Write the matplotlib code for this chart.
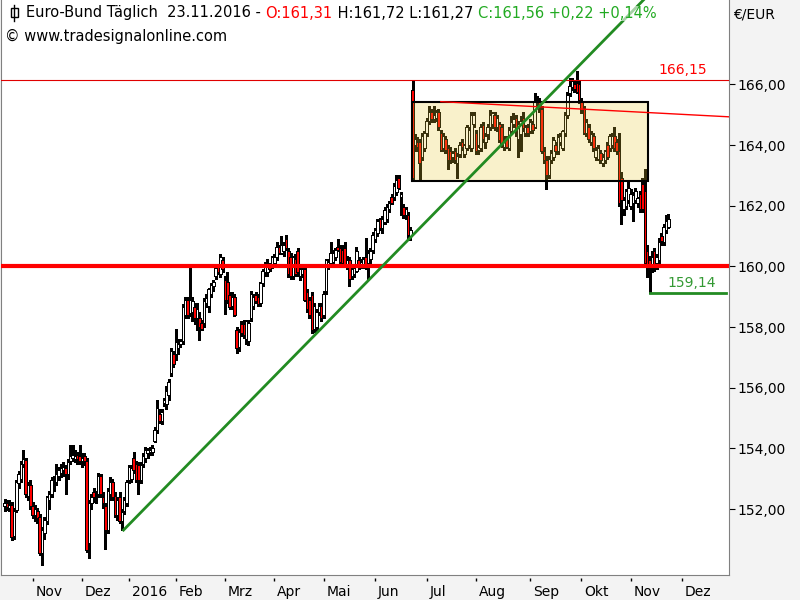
import numpy as np
import pandas as pd
import matplotlib
matplotlib.use("Agg")
import matplotlib.pyplot as plt
import matplotlib.transforms as mtransforms
from matplotlib.patches import Rectangle
from matplotlib.lines import Line2D

# Euro-Bund daily candles, 15.10.2015 - 23.11.2016
opens = [
    # Okt 2015
    152.10, 152.19, 152.05, 152.15, 151.10, 151.98, 152.85, 153.00, 153.50, 153.62, 152.45, 152.80,
    # Nov
    152.10, 151.80, 151.95, 151.75, 150.55, 151.20, 151.60, 152.30, 152.50, 152.85, 152.90, 153.10,
    153.20, 153.30, 153.35, 153.15, 153.60, 153.70, 153.65, 153.80, 153.75,
    # Dez
    153.60, 153.75, 153.60, 150.90, 152.20, 152.55, 152.40, 152.50, 153.10, 152.40, 152.10, 151.30,
    152.50, 152.90, 152.45, 151.80, 152.40, 151.60, 151.95, 152.20,
    # Jan 2016
    152.95, 153.00, 153.70, 153.50, 153.45, 152.95, 153.50, 153.70, 153.85, 153.90, 153.90, 154.25,
    154.60, 155.15, 154.90, 155.50, 155.45, 155.75, 156.50, 157.10,
    # Feb
    157.10, 157.30, 157.45, 157.55, 158.40, 158.90, 158.45, 158.50, 158.65, 158.30, 158.30, 158.15,
    158.15, 158.80, 158.70, 159.10, 159.35, 159.70, 159.97, 159.75, 160.20,
    # Mrz
    159.55, 159.50, 159.05, 158.70, 159.00, 157.90, 157.35, 158.10, 158.10, 157.60, 157.55, 158.30,
    158.70, 159.05, 159.00, 158.80, 159.45, 159.80, 159.80, 160.00, 160.05,
    # Apr
    160.10, 160.30, 160.65, 160.45, 160.50, 160.90, 160.50, 160.30, 159.70, 160.25, 160.50, 159.70,
    159.75, 159.90, 159.15, 158.90, 159.05, 157.95, 158.00, 158.50, 158.70,
    # Mai
    158.40, 159.20, 160.00, 160.10, 160.15, 160.30, 160.65, 160.60, 160.55, 160.60, 160.05, 160.20,
    159.70, 159.75, 159.85, 160.20, 160.00, 160.05, 160.30, 160.10, 160.25, 160.55,
    # Jun
    160.90, 161.10, 161.55, 161.25, 161.45, 161.55, 161.90, 162.30, 162.30, 162.45, 162.90, 162.30,
    161.95, 161.70, 161.70, 161.00, 165.80, 164.00, 164.10, 164.10, 163.60, 163.90,
    # Jul
    164.40, 164.80, 165.10, 164.85, 164.90, 165.10, 164.40, 163.90, 164.20, 163.90, 163.80, 163.60,
    163.80, 163.40, 163.70, 164.10, 163.70, 163.90, 164.00, 163.90, 164.70,
    # Aug
    164.40, 163.85, 163.90, 164.65, 164.10, 164.35, 164.60, 164.70, 165.00, 164.60, 164.70, 164.60,
    163.95, 164.20, 163.90, 164.45, 164.70, 164.90, 164.20, 164.35, 164.90, 164.40, 164.60,
    # Sep
    164.45, 164.70, 164.60, 165.45, 165.45, 165.20, 163.80, 163.50, 163.00, 163.50, 163.60, 164.00,
    163.80, 164.10, 163.90, 164.40, 165.00, 165.70, 165.90, 166.00, 166.05, 166.00,
    # Okt
    165.45, 165.20, 164.40, 164.60, 164.10, 164.30, 163.60, 163.55, 163.75, 163.40, 163.50, 164.00,
    163.90, 164.00, 164.30, 164.10, 163.80, 162.90, 161.90, 162.00, 162.20,
    # Nov
    162.00, 162.10, 162.20, 162.10, 162.40, 162.70, 162.50, 160.50, 160.20, 160.00, 160.50, 160.10,
    160.20, 161.00, 160.80, 161.20, 161.31,
]
highs = [
    152.35, 152.30, 152.30, 152.22, 152.05, 152.95, 153.25, 153.60, 153.95, 153.70, 152.90, 152.95,
    152.25, 152.15, 152.05, 151.85, 151.40, 151.75, 152.45, 152.60, 153.05, 153.10, 153.50, 153.40,
    153.50, 153.55, 153.45, 153.65, 154.10, 154.10, 153.95, 153.90, 154.10,
    153.85, 153.85, 153.70, 152.30, 152.50, 152.70, 152.60, 153.20, 153.15, 152.55, 152.20, 152.70,
    153.05, 153.00, 152.55, 152.40, 152.55, 152.00, 152.40, 152.95,
    153.45, 153.45, 153.90, 153.60, 153.55, 153.55, 153.85, 154.05, 154.00, 154.05, 154.10, 154.70,
    155.60, 155.30, 155.30, 155.65, 156.05, 156.30, 157.30, 157.20,
    157.95, 157.60, 157.60, 158.75, 159.00, 159.00, 159.95, 159.00, 158.80, 158.80, 158.50, 158.25,
    158.95, 159.10, 159.30, 159.45, 159.55, 160.05, 160.05, 160.40, 160.30,
    159.70, 159.80, 159.15, 159.15, 159.10, 158.00, 157.95, 158.20, 158.25, 158.25, 158.25, 159.20,
    159.10, 159.15, 159.10, 159.50, 159.90, 160.15, 160.25, 160.10, 160.35,
    160.40, 160.80, 160.70, 161.00, 160.80, 161.05, 160.60, 160.45, 160.35, 160.40, 160.60, 160.05,
    160.05, 160.00, 159.25, 159.00, 159.15, 158.80, 158.60, 158.80, 158.80,
    159.20, 160.25, 160.25, 160.80, 160.55, 160.60, 160.90, 160.70, 160.70, 160.80, 160.35, 160.30,
    159.95, 160.00, 160.65, 160.30, 160.25, 160.30, 160.95, 160.55, 160.60, 161.15,
    161.25, 161.55, 161.60, 161.65, 161.95, 162.05, 162.15, 162.40, 162.75, 163.00, 163.00, 162.45,
    162.05, 161.95, 161.80, 161.30, 166.15, 164.35, 164.25, 164.20, 164.40, 164.45,
    164.90, 165.30, 165.20, 165.30, 165.15, 165.20, 164.50, 164.40, 164.30, 164.00, 163.95, 163.80,
    163.90, 163.75, 164.10, 164.20, 164.05, 164.65, 164.60, 165.10, 165.10,
    164.50, 164.00, 164.70, 164.75, 164.40, 164.70, 165.15, 165.10, 165.10, 165.00, 164.75, 164.70,
    164.30, 164.30, 164.60, 164.95, 165.05, 165.00, 164.80, 164.95, 165.10, 164.65, 164.70,
    164.85, 164.80, 165.72, 165.60, 165.55, 165.30, 163.95, 163.65, 163.65, 163.85, 164.25, 164.10,
    164.35, 164.40, 164.50, 165.10, 165.75, 166.20, 166.20, 166.15, 166.45, 166.15,
    165.55, 165.30, 164.85, 164.70, 164.45, 164.40, 163.95, 164.00, 163.85, 163.70, 163.85, 164.10,
    164.35, 164.40, 164.60, 164.20, 164.40, 163.10, 162.30, 162.55, 162.85,
    162.55, 162.45, 162.60, 162.30, 162.50, 162.90, 163.20, 160.70, 160.35, 160.50, 160.60, 160.40,
    160.95, 161.10, 161.40, 161.70, 161.72,
]
lows = [
    151.95, 151.98, 151.95, 150.98, 151.00, 151.90, 152.70, 152.90, 153.40, 152.40, 152.30, 152.00,
    151.70, 151.60, 151.55, 150.50, 150.15, 151.00, 151.50, 152.00, 152.40, 152.60, 152.80, 152.95,
    153.05, 153.10, 152.50, 153.00, 153.50, 153.60, 153.55, 153.50, 153.50,
    153.40, 153.45, 150.60, 150.40, 152.00, 152.25, 152.20, 152.40, 152.40, 152.05, 150.70, 151.20,
    152.30, 152.30, 151.75, 151.65, 151.55, 151.31, 151.85, 152.10,
    152.85, 152.90, 153.20, 152.90, 152.50, 152.85, 153.40, 153.55, 153.70, 153.80, 153.80, 154.20,
    154.50, 154.85, 154.80, 155.40, 155.30, 155.60, 156.40, 156.70,
    156.90, 157.10, 157.35, 157.45, 158.30, 158.30, 158.35, 158.20, 158.10, 157.90, 157.57, 157.90,
    158.00, 158.65, 158.50, 159.00, 159.20, 159.60, 159.75, 159.65, 159.80,
    158.43, 158.80, 158.60, 158.60, 158.35, 157.13, 157.20, 157.70, 157.65, 157.45, 157.40, 158.20,
    158.60, 158.80, 158.70, 158.70, 159.35, 159.70, 159.70, 159.85, 159.95,
    160.00, 160.20, 160.40, 160.40, 160.35, 160.55, 159.65, 159.60, 159.60, 159.70, 159.70, 159.55,
    159.65, 158.85, 158.50, 158.30, 157.80, 157.85, 157.85, 158.40, 158.20,
    158.30, 159.10, 159.90, 160.00, 160.05, 160.20, 160.50, 160.05, 160.00, 160.00, 159.90, 159.35,
    159.60, 159.65, 159.80, 159.90, 159.95, 159.95, 159.90, 159.60, 160.10, 160.45,
    160.80, 161.00, 161.20, 161.10, 161.40, 161.45, 161.80, 162.05, 162.20, 162.35, 162.55, 161.70,
    161.60, 161.55, 160.95, 160.87, 162.80, 163.80, 163.80, 162.85, 163.50, 163.80,
    164.30, 164.70, 164.75, 164.75, 164.80, 164.50, 163.80, 163.80, 163.75, 163.20, 163.40, 163.45,
    163.40, 162.90, 163.60, 163.85, 163.60, 163.85, 163.90, 163.80, 164.60,
    163.70, 163.70, 163.80, 164.10, 163.90, 164.20, 164.50, 164.55, 164.50, 164.45, 164.10, 163.95,
    163.85, 163.90, 163.85, 164.40, 164.60, 164.30, 163.60, 163.80, 164.45, 164.30, 164.30,
    164.40, 164.40, 164.55, 165.30, 165.10, 163.75, 163.40, 162.55, 162.90, 163.40, 163.50, 163.70,
    163.70, 164.00, 163.85, 164.30, 164.90, 165.60, 165.80, 165.75, 165.70, 165.40,
    165.05, 164.35, 164.30, 164.10, 164.00, 163.80, 163.50, 163.50, 163.40, 163.30, 163.40, 163.55,
    163.80, 163.90, 163.80, 163.70, 162.00, 161.40, 161.70, 161.90, 162.10,
    161.90, 161.50, 162.10, 161.95, 161.80, 161.80, 160.05, 159.65, 159.14, 159.80, 159.85, 159.90,
    160.10, 160.70, 160.70, 161.10, 161.27,
]
closes = [
    152.19, 152.08, 152.15, 151.09, 151.95, 152.90, 153.15, 153.50, 153.65, 152.50, 152.80, 152.10,
    151.80, 152.00, 151.70, 150.55, 151.30, 151.65, 152.40, 152.50, 152.95, 152.90, 153.15, 153.30,
    153.35, 153.40, 153.15, 153.55, 153.75, 153.80, 153.75, 153.65, 153.60,
    153.70, 153.60, 150.65, 152.20, 152.40, 152.40, 152.45, 153.10, 152.50, 152.20, 151.30, 152.60,
    152.90, 152.40, 151.80, 152.30, 151.60, 151.90, 152.30, 152.90,
    153.40, 153.35, 153.30, 152.96, 152.95, 153.45, 153.75, 153.95, 153.95, 153.95, 154.00, 154.60,
    155.35, 154.90, 155.20, 155.60, 155.90, 156.20, 157.20, 156.80,
    157.50, 157.45, 157.55, 158.65, 158.90, 158.40, 158.90, 158.85, 158.30, 158.60, 158.00, 157.95,
    158.85, 158.95, 159.25, 159.40, 159.50, 159.95, 159.80, 160.30, 159.90,
    158.90, 158.90, 158.66, 159.00, 158.40, 157.30, 157.85, 157.80, 157.75, 158.20, 158.15, 159.10,
    159.00, 158.85, 158.75, 159.45, 159.85, 160.05, 160.10, 159.90, 160.30,
    160.30, 160.65, 160.45, 160.70, 160.70, 160.60, 159.75, 159.70, 160.30, 159.75, 159.80, 159.90,
    159.90, 158.90, 158.60, 158.40, 157.90, 158.70, 158.50, 158.70, 158.30,
    159.10, 160.20, 160.15, 160.45, 160.45, 160.55, 160.55, 160.15, 160.10, 160.05, 160.20, 159.60,
    159.90, 159.95, 160.50, 160.00, 160.15, 160.25, 160.00, 160.45, 160.50, 161.05,
    161.20, 161.50, 161.25, 161.55, 161.85, 161.95, 162.10, 162.10, 162.65, 162.85, 162.60, 162.40,
    161.70, 161.90, 161.05, 161.20, 162.92, 164.20, 163.95, 163.40, 164.30, 164.40,
    164.80, 165.10, 164.85, 165.00, 165.10, 164.60, 163.85, 164.30, 163.85, 163.50, 163.50, 163.75,
    163.50, 163.65, 164.00, 163.95, 164.00, 164.60, 164.50, 165.00, 165.00,
    163.80, 163.95, 164.60, 164.20, 164.30, 164.60, 165.00, 165.05, 164.60, 164.90, 164.15, 164.00,
    164.20, 163.95, 164.50, 164.75, 164.85, 164.45, 164.70, 164.80, 164.55, 164.60, 164.40,
    164.75, 164.50, 165.45, 165.40, 165.25, 163.80, 163.50, 163.00, 163.55, 163.75, 164.15, 163.80,
    164.25, 164.30, 164.45, 165.00, 165.65, 165.95, 166.10, 165.85, 165.75, 165.50,
    165.15, 164.40, 164.75, 164.20, 164.35, 163.90, 163.85, 163.90, 163.50, 163.60, 163.80, 163.60,
    164.30, 164.30, 163.90, 163.80, 162.10, 162.20, 162.20, 162.50, 162.60,
    162.40, 162.35, 162.50, 162.25, 161.90, 161.90, 160.10, 160.00, 160.00, 160.30, 160.00, 160.30,
    160.80, 160.85, 161.30, 161.50, 161.56,
]

month_labels = ["Nov", "Dez", "2016", "Feb", "Mrz", "Apr", "Mai", "Jun",
                "Jul", "Aug", "Sep", "Okt", "Nov", "Dez"]
yticks = [152, 154, 156, 158, 160, 162, 164, 166]

# drawing objects (bar index, price)
box_x = (173.6, 274.4)
box_y = (162.81, 165.43)
green_trend = ((50.7, 151.31), (173.3, 160.97))
red_trend = ((186.0, 165.43), (308.9, 164.93))
level_high = 166.15
level_mid = 160.0
level_low = 159.14

# trading days (Eurex holidays removed), continued into the future for the axis
holidays = pd.to_datetime(["2015-12-24", "2015-12-25", "2015-12-31", "2016-01-01",
                           "2016-03-25", "2016-03-28", "2016-12-26"])
days = pd.bdate_range("2015-10-15", "2016-12-30")
days = days[~days.isin(holidays)]
per = days.to_period("M")
month_idx = np.flatnonzero(np.r_[False, per[1:] != per[:-1]])[:len(month_labels)]

o = np.array(opens); h = np.array(highs); l = np.array(lows); c = np.array(closes)
idx = np.arange(len(c))
up = c >= o

fig = plt.figure(figsize=(8, 6), dpi=100, facecolor="#f3f3f3")
ax = fig.add_axes([1 / 800, 25 / 600, 728 / 800, 575 / 600])
ax.set_facecolor("white")
ax.set_xlim(-1.54, 308.9)
ax.set_ylim(149.83, 168.78)

ax.vlines(idx, l, h, color="black", lw=1.0, zorder=2, antialiased=False)
ax.bar(idx[up], c[up] - o[up], bottom=o[up], width=1.1, facecolor="white",
       edgecolor="black", linewidth=0.72, zorder=3, antialiased=False)
ax.bar(idx[~up], o[~up] - c[~up], bottom=c[~up], width=1.1, facecolor="#ff0000",
       edgecolor="black", linewidth=0.72, zorder=3, antialiased=False)

# consolidation box
ax.add_patch(Rectangle((box_x[0], box_y[0]), box_x[1] - box_x[0], box_y[1] - box_y[0],
                       facecolor="#ebc832", alpha=0.25, edgecolor="none", zorder=4))
ax.add_patch(Rectangle((box_x[0], box_y[0]), box_x[1] - box_x[0], box_y[1] - box_y[0],
                       fill=False, edgecolor="black", lw=1.5, zorder=4))

# levels and trend lines
ax.axhline(level_high, color="#e00000", lw=0.8, zorder=5)
ax.axhline(level_mid, color="#ff0000", lw=3, zorder=5)
(gx0, gy0), (gx1, gy1) = green_trend
slope = (gy1 - gy0) / (gx1 - gx0)
ax.plot([gx0, 320], [gy0, gy0 + slope * (320 - gx0)], color="#228b22", lw=2, zorder=6)
ax.plot([red_trend[0][0], red_trend[1][0]], [red_trend[0][1], red_trend[1][1]],
        color="#ff0000", lw=1, zorder=5)
low_i = int(np.argmin(np.abs(l - level_low)))
ax.plot([low_i, 307.6], [level_low, level_low], color="#228b22", lw=2, zorder=6)

ax.text(278.6, level_high + 0.1, "166,15", color="#ff0000", fontsize=10, va="bottom", ha="left")
ax.text(282.5, level_low + 0.08, "159,14", color="#339933", fontsize=10, va="bottom", ha="left")

# axes styling
for s in ["left", "right", "bottom"]:
    ax.spines[s].set_color("#808080")
ax.spines["top"].set_visible(False)
ax.yaxis.tick_right()
ax.set_yticks(yticks)
ax.set_yticklabels([f"{v:.2f}".replace(".", ",") for v in yticks])
ax.tick_params(axis="y", direction="out", length=4, width=0.8, pad=2, labelsize=10)
ax.set_xticks(month_idx)
ax.set_xticklabels(month_labels, ha="left")
ax.tick_params(axis="x", length=0, pad=7, labelsize=10)
shift = mtransforms.ScaledTranslation(2 / 72, 0, fig.dpi_scale_trans)
for lab in ax.get_xticklabels():
    lab.set_transform(lab.get_transform() + shift)
tr = mtransforms.blended_transform_factory(ax.transData, ax.transAxes)
ax.vlines(month_idx, -6 / 575, -3 / 575, transform=tr, color="black", lw=1, clip_on=False)

fig.text(733 / 800, 1 - 14 / 600, "€/EUR", fontsize=10, va="center", ha="left")

# header
fig.add_artist(Line2D([14.5 / 800, 14.5 / 800], [1 - 5 / 600, 1 - 21 / 600], color="black", lw=1))
fig.add_artist(Rectangle((11 / 800, 1 - 17 / 600), 7 / 800, 9 / 600, transform=fig.transFigure,
                         facecolor="white", edgecolor="black", lw=1))
pieces = [("Euro-Bund Täglich  23.11.2016 - ", "black"), ("O:161,31", "#ff0000"),
          (" H:161,72 L:161,27 ", "black"), ("C:161,56 +0,22 +0,14%", "#22aa22")]
r = fig.canvas.get_renderer()
x = 26
for s, col in pieces:
    t = fig.text(x / 800, 1 - 13 / 600, s, color=col, fontsize=10.5, va="center", ha="left",
                 zorder=7, bbox=dict(facecolor="white", alpha=0.6, edgecolor="none", pad=0))
    x = t.get_window_extent(renderer=r).x1
fig.text(5 / 800, 1 - 36 / 600, "© www.tradesignalonline.com", fontsize=10.5, va="center", ha="left")

fig.savefig("out.png", dpi=100, facecolor=fig.get_facecolor())
